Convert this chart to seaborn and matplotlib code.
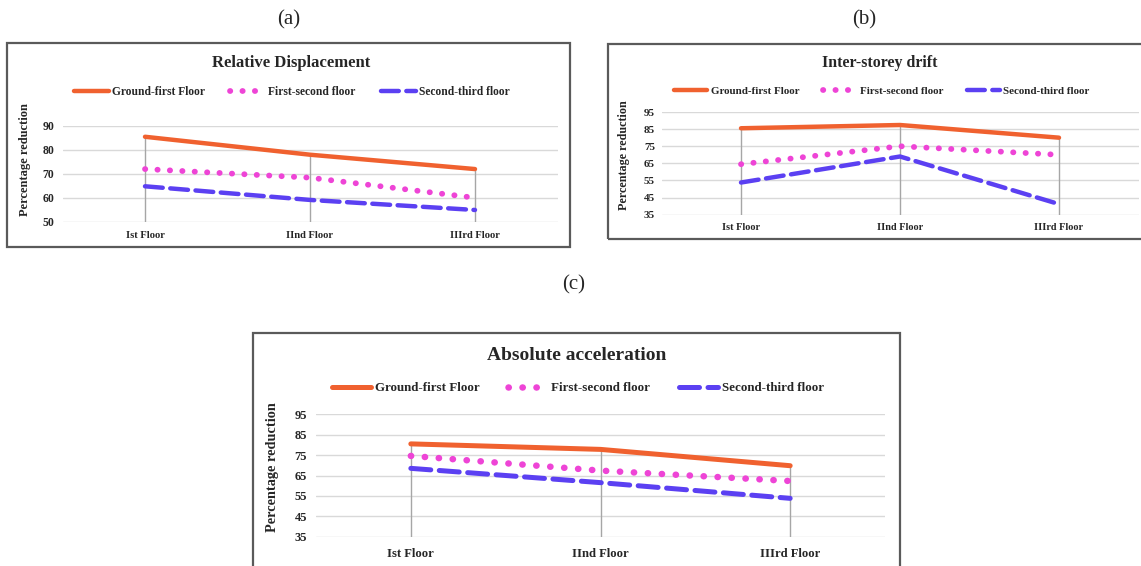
import numpy as np
import pandas as pd
import matplotlib
matplotlib.use("Agg")
import matplotlib.pyplot as plt
from matplotlib.patches import Rectangle
import seaborn as sns

# ---- data ----
floors = ["Ist Floor", "IInd Floor", "IIIrd Floor"]
series_names = ["Ground-first Floor", "First-second floor", "Second-third floor"]

disp_ground_first = [85.5, 78.0, 72.0]
disp_first_second = [72.0, 68.4, 60.0]
disp_second_third = [64.8, 59.1, 54.9]

drift_ground_first = [85.5, 87.4, 80.0]
drift_first_second = [64.5, 75.0, 70.0]
drift_second_third = [53.8, 69.0, 41.2]

acc_ground_first = [80.5, 77.8, 69.8]
acc_first_second = [74.6, 67.4, 62.3]
acc_second_third = [68.5, 61.5, 53.8]

disp_ticks = [50, 60, 70, 80, 90]
drift_ticks = [35, 45, 55, 65, 75, 85, 95]
acc_ticks = [35, 45, 55, 65, 75, 85, 95]

# ---- style ----
sns.set_theme(style="white")
plt.rcParams["font.family"] = ["Liberation Serif", "DejaVu Serif"]

W, H = 1141, 566
fig = plt.figure(figsize=(W / 100, H / 100), dpi=100)

palette = {"Ground-first Floor": "#F0612F",
           "First-second floor": "#EE44D6",
           "Second-third floor": "#5B40F2"}
dashes = {"Ground-first Floor": "",
          "First-second floor": (0.05, 2.1),
          "Second-third floor": (4.0, 1.7)}


def fx(px):
    return px / W


def fy(py):
    return 1 - py / H


def frame(x0, y0, x1, y1):
    fig.add_artist(Rectangle((fx(x0), fy(y1)), fx(x1) - fx(x0), fy(y0) - fy(y1),
                             transform=fig.transFigure, fill=False,
                             edgecolor="#5a5a5a", linewidth=1.6, zorder=0))


def panel(box, series, ticks, title, title_xy, title_size, leg_xy, leg_size,
          tick_size, cat_size, ylab_size, ylab_xy, lw, pads):
    left, top, right, bottom = box
    ax = fig.add_axes([fx(left), fy(bottom), fx(right) - fx(left), fy(top) - fy(bottom)])
    df = pd.DataFrame({
        "floor": floors * 3,
        "value": np.concatenate(series),
        "series": np.repeat(series_names, 3),
    })
    sns.lineplot(data=df, x="floor", y="value", hue="series", style="series",
                 palette=palette, dashes=dashes, linewidth=lw, legend=False,
                 sort=False, ax=ax)
    lines = ax.get_lines()[:3]
    for ln in lines:
        ln.set_dash_capstyle("round")
        ln.set_solid_capstyle("round")
        ln.set_zorder(3)
    # the dotted series uses fatter dots
    lines[1].set_linewidth(lw * 1.3)
    # drop lines from the highest point at each floor
    tops = np.max(np.vstack(series), axis=0)
    ax.vlines(range(len(floors)), ticks[0], tops, color="#a6a6a6", linewidth=1.0, zorder=2)

    ax.set_xlim(-0.5, len(floors) - 0.5)
    ax.set_ylim(ticks[0], ticks[-1])
    ax.set_yticks(ticks)
    ax.yaxis.grid(True, color="#d9d9d9", linewidth=1.0)
    ax.set_axisbelow(True)
    for s in ax.spines.values():
        s.set_visible(False)
    ax.tick_params(axis="x", length=0, pad=pads[0], labelsize=cat_size)
    ax.tick_params(axis="y", length=0, pad=pads[1], labelsize=tick_size)
    for lab in ax.get_xticklabels() + ax.get_yticklabels():
        lab.set_fontweight("bold")
    ax.set_xlabel("")
    ax.set_ylabel("Percentage reduction", fontsize=ylab_size, fontweight="bold")
    ax.yaxis.set_label_coords(*ylab_xy)

    fig.text(fx(title_xy[0]), fy(title_xy[1]), title, ha="center", va="center",
             fontsize=title_size, fontweight="bold")
    fig.legend(lines, series_names, loc="center",
               bbox_to_anchor=(fx(leg_xy[0]), fy(leg_xy[1])), ncol=3, frameon=False,
               prop={"weight": "bold", "size": leg_size, "family": "Liberation Serif"},
               handlelength=3.0, handletextpad=0.3, columnspacing=2.2,
               borderpad=0, borderaxespad=0)
    return ax


# panel frames
frame(7, 43, 570, 247)
frame(608, 44, 1150, 239)
frame(253, 333, 900, 580)

panel((62.5, 126, 557.5, 221.7),
      [disp_ground_first, disp_first_second, disp_second_third], disp_ticks,
      "Relative Displacement", (291, 63), 12, (292, 92), 8.3,
      8.5, 7.6, 9, (-0.064, 0.645), 3.2, (7, 6))

panel((661.5, 112, 1138.5, 214.7),
      [drift_ground_first, drift_first_second, drift_second_third], drift_ticks,
      "Inter-storey drift", (880, 63), 11.4, (882, 91), 7.9,
      8, 7.4, 8.7, (-0.066, 0.576), 3.2, (6, 4.7))

panel((316, 414.3, 885, 536.7),
      [acc_ground_first, acc_first_second, acc_second_third], acc_ticks,
      "Absolute acceleration", (577, 355), 14, (578, 388), 9.4,
      9, 9.1, 10.3, (-0.065, 0.565), 3.6, (8, 6.5))

for lab, x, y in [("(a)", 289, 20), ("(b)", 864, 20), ("(c)", 574, 285)]:
    fig.text(fx(x), fy(y), lab, ha="center", va="center", fontsize=15)

fig.savefig("out.png", dpi=100)
